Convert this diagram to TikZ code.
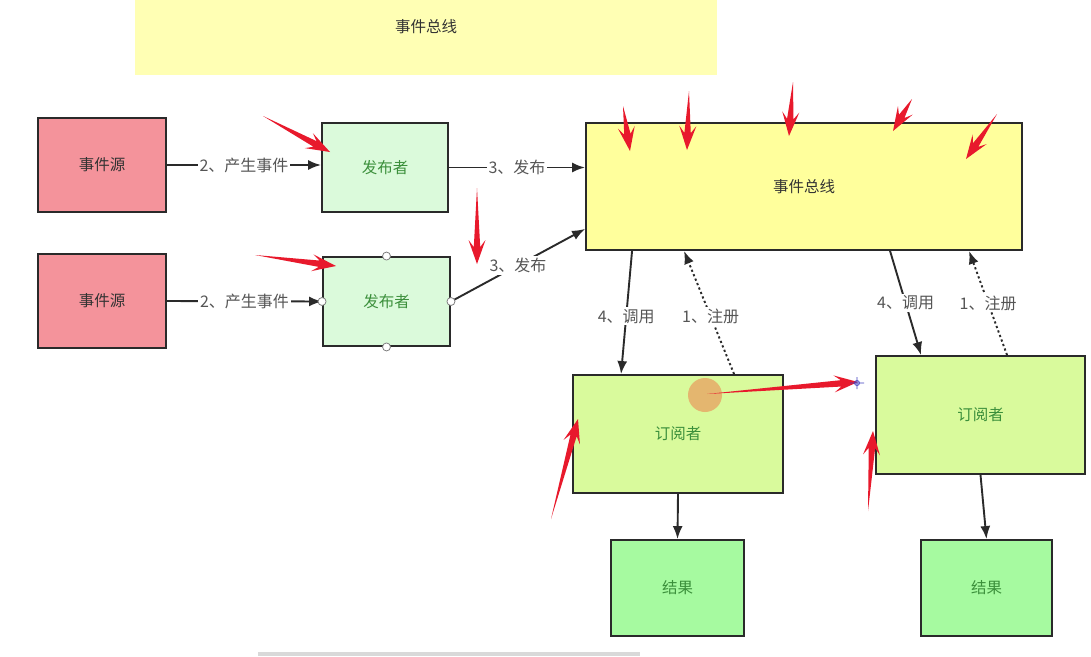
\documentclass[tikz,border=0pt]{standalone}
\usepackage{fontspec}
\setmainfont{Noto Sans CJK SC}
\usetikzlibrary{arrows.meta,calc}
\definecolor{srcfill}{HTML}{F4939B}
\definecolor{pubfill}{HTML}{DBFADB}
\definecolor{busfill}{HTML}{FFFF9C}
\definecolor{subfill}{HTML}{D9FA9C}
\definecolor{resfill}{HTML}{A6FAA0}
\definecolor{topfill}{HTML}{FFFFB4}
\definecolor{gtext}{HTML}{3B8F3B}
\definecolor{dtext}{HTML}{333333}
\definecolor{ltext}{HTML}{555555}
\definecolor{edgec}{HTML}{2A2A2A}
\definecolor{annot}{HTML}{E8192C}
\definecolor{hilite}{HTML}{E8A060}
\tikzset{
  box/.style={draw=edgec, line width=1.9pt, rectangle, inner sep=0pt, font=\fontsize{15.5}{17}\selectfont},
  srcbox/.style={box, fill=srcfill, text=dtext, minimum width=128pt, minimum height=94pt},
  pubbox/.style={box, fill=pubfill, text=gtext, minimum width=126pt, minimum height=89pt},
  busbox/.style={box, fill=busfill, text=dtext, minimum width=436pt, minimum height=127pt},
  subbox/.style={box, fill=subfill, text=gtext, minimum width=209pt, minimum height=118pt},
  resbox/.style={box, fill=resfill, text=gtext, minimum width=132pt, minimum height=96pt},
  conn/.style={draw=edgec, line width=1.9pt, -{Latex[length=13pt,width=10pt]}},
  regconn/.style={conn, dash pattern=on 2.2pt off 2.6pt},
  elabel/.style={fill=white, text=ltext, inner sep=2pt, font=\fontsize{16}{18}\selectfont},
  handle/.style={circle, draw=gray, fill=white, line width=0.8pt, inner sep=0pt, minimum size=8pt},
}
\newcommand{\redarr}[2]{%
  \path (#1) coordinate (ra) (#2) coordinate (rb);
  \path ($(rb)!24pt!(ra)$) coordinate (rh) ($(rb)!17pt!(ra)$) coordinate (ri);
  \fill[annot] (ra) -- ($(ri)!3.2pt!90:(rb)$) -- ($(rh)!8.5pt!90:(rb)$) -- (rb)
     -- ($(rh)!8.5pt!-90:(rb)$) -- ($(ri)!3.2pt!-90:(rb)$) -- cycle;
}
\begin{document}
\begin{tikzpicture}[x=1pt,y=-1pt]
\useasboundingbox (0,0) rectangle (1091,656);
\fill[white] (0,0) rectangle (1091,656);
% top bar
\node (topbar) [fill=topfill, minimum width=582pt, minimum height=75pt, inner sep=0pt] at (426,37.5) {};
\node (topbartxt) [text=dtext, font=\fontsize{15.5}{17}\selectfont] at (426,27) {事件总线};
% nodes
\node (src1) [srcbox] at (102,165) {事件源};
\node (src2) [srcbox] at (102,301) {事件源};
\node (pub1) [pubbox] at (385,167.5) {发布者};
\node (pub2) [pubbox, minimum width=127pt] at (386.5,301.5) {发布者};
\node (bus) [busbox] at (804,186.5) {事件总线};
\node (sub1) [subbox, minimum width=210pt] at (678,434) {订阅者};
\node (sub2) [subbox] at (980.5,415) {订阅者};
\node (res1) [resbox, minimum width=133pt] at (677.5,588) {结果};
\node (res2) [resbox, minimum width=131pt] at (986.5,588) {结果};
% connectors
\draw[conn] (src1.east) -- node[elabel] {2、产生事件} (pub1.west |- src1.east);
\draw[conn] (src2.east) -- node[elabel] {2、产生事件} (pub2.west);
\draw[conn] (pub1.east) -- node[elabel] {3、发布} (pub1.east -| bus.west);
\coordinate (busin2) at ($(bus.south west)+(0,-22)$);
\draw[conn] (pub2.east) -- node[elabel] {3、发布} (busin2);
\coordinate (b1) at ($(bus.south west)+(47,0)$);
\coordinate (s1) at ($(sub1.north west)+(49,0)$);
\draw[conn] (b1) -- node[elabel, pos=0.53] {4、调用} (s1);
\coordinate (s1r) at ($(sub1.north west)+(162,0)$);
\coordinate (b1r) at ($(bus.south west)+(99,0)$);
\draw[regconn] (s1r) -- node[elabel, pos=0.47] {1、注册} (b1r);
\coordinate (b2) at ($(bus.south west)+(305,0)$);
\coordinate (s2) at ($(sub2.north west)+(46,0)$);
\draw[conn] (b2) -- node[elabel] {4、调用} (s2);
\coordinate (s2r) at ($(sub2.north west)+(132,0)$);
\coordinate (b2r) at ($(bus.south west)+(384,0)$);
\draw[regconn] (s2r) -- node[elabel] {1、注册} (b2r);
\draw[conn] (sub1.south) -- (res1.north);
\draw[conn] (sub2.south) -- (res2.north);
% selection handles on pub2
\node (h1) [handle] at (pub2.north) {};
\node (h2) [handle] at (pub2.south) {};
\node (h3) [handle] at (pub2.west) {};
\node (h4) [handle] at (pub2.east) {};
% orange highlight
\fill[hilite, opacity=0.75] (705,395) circle (17);
% red annotation arrows
\redarr{263,116}{330,152}
\redarr{255,255}{336,266}
\redarr{477,188}{477,264}
\redarr{623,106}{630,151}
\redarr{689,91}{687,150}
\redarr{793,82}{789,136}
\redarr{912,99}{893,131}
\redarr{997,114}{966,159}
\redarr{551,519}{578,419}
\redarr{868,511}{873,431}
\redarr{707,394}{858,382}
% crosshair
\draw[blue!50!gray, line width=0.8pt] (857,383) circle (2.5) (850,383) -- (864,383) (857,377) -- (857,389);
% scrollbar
\fill[gray!30] (258,652) rectangle (640,656);
\end{tikzpicture}
\end{document}
